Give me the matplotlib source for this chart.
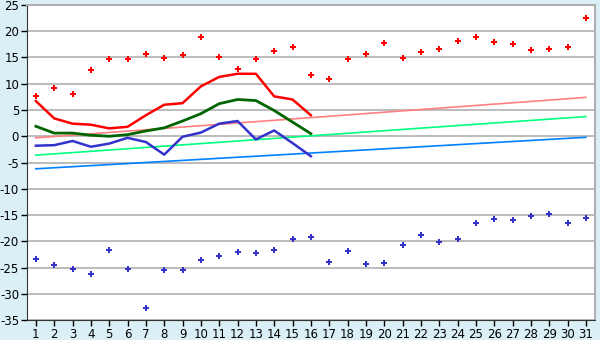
import numpy as np
import matplotlib.pyplot as plt

plt.rcParams['axes.unicode_minus'] = False

days = list(range(1, 32))
line_days = list(range(1, 17))

# daily extremes (points)
t_max = [7.7, 9.1, 8.0, 12.6, 14.7, 14.7, 15.7, 14.9, 15.5, 18.9,
         15.1, 12.8, 14.7, 16.2, 17.0, 11.6, 10.9, 14.7, 15.7, 17.8,
         14.9, 16.0, 16.6, 18.1, 18.9, 17.9, 17.6, 16.4, 16.6, 17.0, 22.5]
t_min = [-23.4, -24.6, -25.2, -26.3, -21.7, -25.3, -32.8, -25.5, -25.5, -23.6,
         -22.9, -22.1, -22.3, -21.7, -19.6, -19.2, -24.0, -21.9, -24.4, -24.2,
         -20.7, -18.8, -20.2, -19.6, -16.5, -15.8, -16.0, -15.2, -14.8, -16.5, -15.6]

# daily lines (days 1-16)
day_max = [6.7, 3.4, 2.4, 2.2, 1.5, 1.8, 4.0, 6.0, 6.3, 9.5, 11.3, 11.9, 11.9, 7.6, 7.0, 4.0]
day_mean = [1.9, 0.6, 0.6, 0.2, 0.0, 0.3, 1.0, 1.6, 2.9, 4.3, 6.2, 7.0, 6.8, 4.9, 2.7, 0.5]
day_min = [-1.8, -1.7, -0.9, -2.0, -1.4, -0.3, -1.1, -3.5, -0.1, 0.7, 2.4, 2.9, -0.6, 1.1, -1.3, -3.8]

# normal lines, value on day 1 and day 31
norm_days = [1, 31]
norm_max = [-0.3, 7.4]
norm_mean = [-3.6, 3.75]
norm_min = [-6.2, -0.2]

fig = plt.figure(figsize=(6, 3.4), dpi=100, facecolor='#daeff6')
ax = fig.add_axes([0.0445, 0.0588, 0.9472, 0.9265])
ax.set_facecolor('white')

ax.plot(norm_days, norm_max, color='#ff8080', lw=1.2, zorder=2)
ax.plot(norm_days, norm_mean, color='#00ff80', lw=1.2, zorder=2)
ax.plot(norm_days, norm_min, color='#0080ff', lw=1.2, zorder=2)

ax.plot(line_days, day_max, color='#ff0000', lw=1.8, zorder=3)
ax.plot(line_days, day_mean, color='#006400', lw=2.0, zorder=3)
ax.plot(line_days, day_min, color='#3333cc', lw=1.8, zorder=3)

ax.plot(days, t_max, ls='none', marker='P', ms=5, color='#ff0000', mew=0, zorder=4)
ax.plot(days, t_min, ls='none', marker='P', ms=5, color='#3333cc', mew=0, zorder=4)

ax.set_xlim(0.5, 31.5)
ax.set_ylim(-35, 25)
ax.set_xticks(days)
ax.set_yticks(range(-35, 30, 5))
ax.yaxis.grid(True, color='#b0b0b0', lw=1.2)
ax.set_axisbelow(True)
ax.tick_params(labelsize=8.5, length=4, width=1, color='black', pad=1.5)

for side in ['top', 'right']:
    ax.spines[side].set_color('#b0b0b0')
    ax.spines[side].set_linewidth(1.5)
for side in ['left', 'bottom']:
    ax.spines[side].set_color('#333333')

fig.savefig('out.png', dpi=100, facecolor=fig.get_facecolor())
